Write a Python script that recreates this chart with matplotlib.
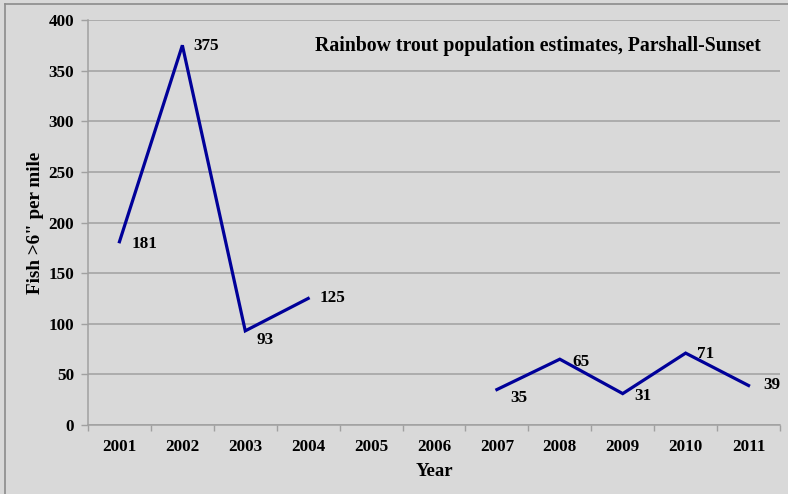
import numpy as np
import matplotlib
matplotlib.use("Agg")
import matplotlib.pyplot as plt
from matplotlib.lines import Line2D

years = ["2001", "2002", "2003", "2004", "2005", "2006",
         "2007", "2008", "2009", "2010", "2011"]
fish_per_mile = [181, 375, 93, 125, None, None, 35, 65, 31, 71, 39]

title_text = "Rainbow trout population estimates, Parshall-Sunset"
y_label = "Fish >6\" per mile"
x_label = "Year"

# label offsets (pixels) relative to each point
label_offsets = [(12, -2), (11, -1), (11, -9), (11, 0), None, None,
                 (13, -8), (13, -3), (12, -2), (11, -1), (15, 1)]

bg = "#d9d9d9"
line_color = "#000099"
grid_color = "#a0a0a0"

plt.rcParams["font.family"] = ["Liberation Serif", "DejaVu Serif"]
plt.rcParams["font.weight"] = "bold"

fig = plt.figure(figsize=(7.88, 4.94), dpi=100, facecolor=bg)
ax = fig.add_axes([88 / 788, 1 - 425 / 494, 692 / 788, 405 / 494])
ax.set_facecolor(bg)

x = np.arange(len(years))
y = np.array([np.nan if v is None else v for v in fish_per_mile], dtype=float)
ax.plot(x, y, color=line_color, lw=2.3, solid_joinstyle="miter")

for xi, v, off in zip(x, fish_per_mile, label_offsets):
    if v is None:
        continue
    ax.annotate(str(v), (xi, v), xytext=off, textcoords="offset pixels",
                ha="left", va="center", fontsize=12.3, fontweight="bold")

ax.set_xlim(-0.5, len(years) - 0.5)
ax.set_ylim(0, 400)
ax.set_yticks(np.arange(0, 401, 50))
ax.yaxis.grid(True, color=grid_color, lw=1.1)
ax.set_axisbelow(True)

ax.set_xticks(x)
ax.set_xticklabels(years)
ax.set_xticks(np.arange(-0.5, len(years)), minor=True)
ax.tick_params(axis="x", which="major", length=0, pad=10, labelsize=12.3)
ax.tick_params(axis="x", which="minor", length=4, color=grid_color, width=1)
ax.tick_params(axis="y", length=5, color=grid_color, width=1, pad=5, labelsize=12.3)

for s in ("top", "right"):
    ax.spines[s].set_visible(False)
for s in ("left", "bottom"):
    ax.spines[s].set_color(grid_color)
    ax.spines[s].set_linewidth(1.1)

ax.set_ylabel(y_label, fontsize=13.8, fontweight="bold", labelpad=3)
ax.set_xlabel(x_label, fontsize=13.5, fontweight="bold", labelpad=6)

ax.text(0.9725, 0.936, title_text, transform=ax.transAxes, ha="right",
        va="center", fontsize=14.2, fontweight="bold")

# outer chart frame
fig.add_artist(Line2D([5 / 788, 1.0], [1 - 4 / 494, 1 - 4 / 494],
                      transform=fig.transFigure, color="#8c8c8c", lw=1.2))
fig.add_artist(Line2D([5 / 788, 5 / 788], [0.0, 1 - 4 / 494],
                      transform=fig.transFigure, color="#8c8c8c", lw=1.2))

fig.savefig("out.png", dpi=100, facecolor=bg)
